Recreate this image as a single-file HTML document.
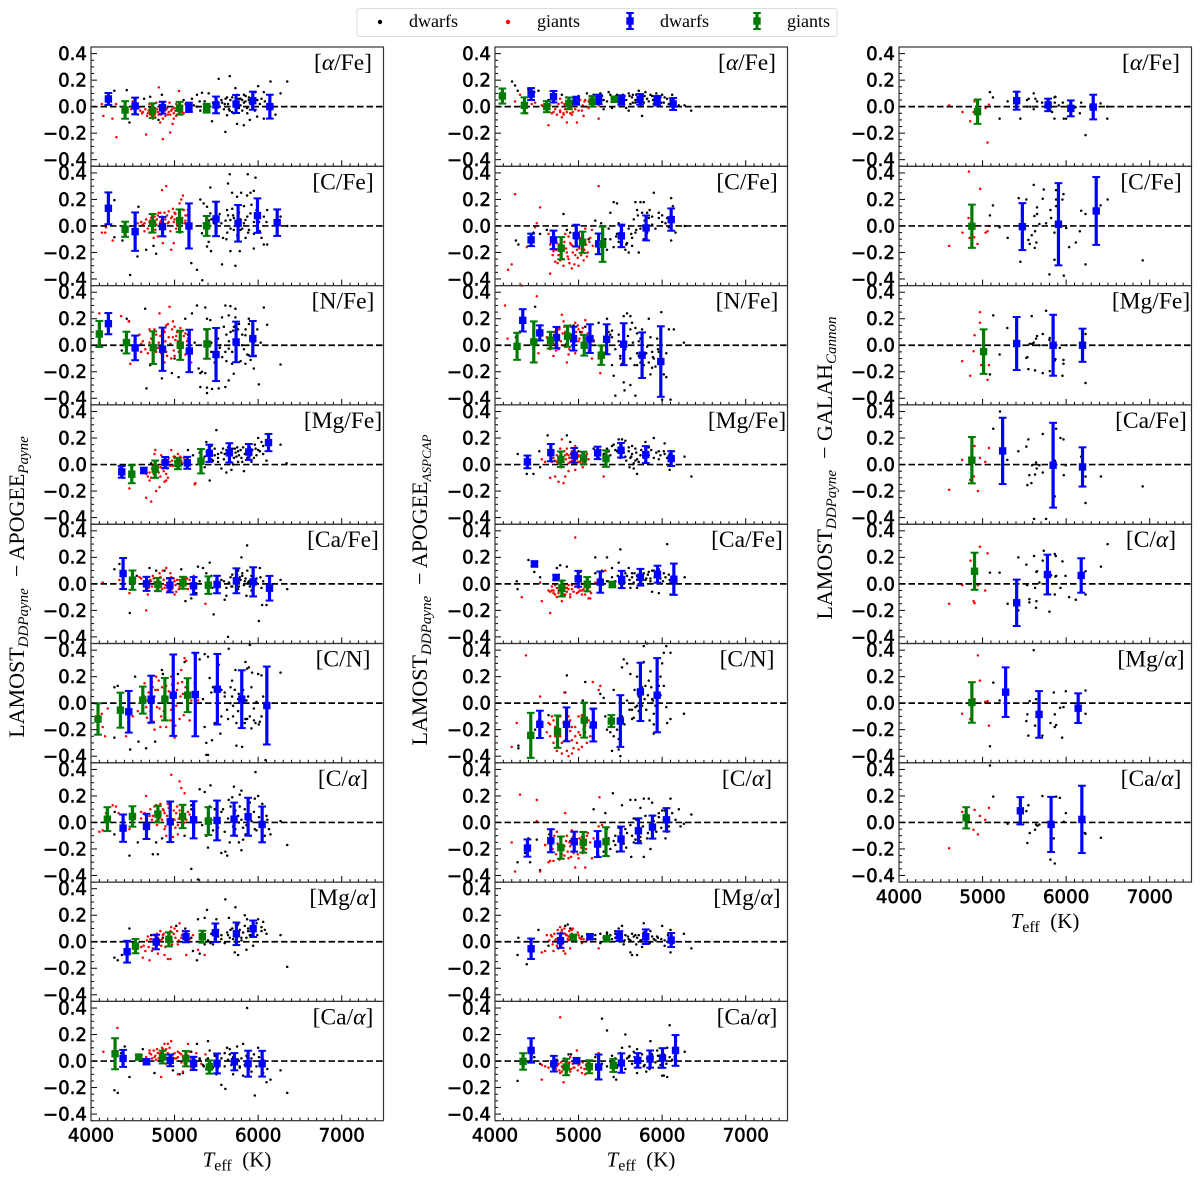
<!DOCTYPE html>
<html lang="en">
<head>
<meta charset="utf-8">
<title>LAMOST abundance comparison</title>
<style>
html,body{margin:0;padding:0;background:#fff;}
svg{display:block;}
text{fill:#000;}
.tick{font-family:"DejaVu Sans",sans-serif;font-size:18.2px;stroke:#000;stroke-width:.55px;}
.serif{font-family:"Liberation Serif",serif;}
</style>
</head>
<body>
<svg id="figure" xmlns="http://www.w3.org/2000/svg" width="1200" height="1178" viewBox="0 0 1200 1178"></svg>
<script>
// Panel titles, in reading order: left column (9), middle column (9), right column (7)
const panelTitles = [
"[α/Fe]","[C/Fe]","[N/Fe]","[Mg/Fe]","[Ca/Fe]","[C/N]","[C/α]","[Mg/α]","[Ca/α]",
"[α/Fe]","[C/Fe]","[N/Fe]","[Mg/Fe]","[Ca/Fe]","[C/N]","[C/α]","[Mg/α]","[Ca/α]",
"[α/Fe]","[C/Fe]","[Mg/Fe]","[Ca/Fe]","[C/α]","[Mg/α]","[Ca/α]"];
const columnPanelCounts = [9,9,7];
const xTickValues = [4000,5000,6000,7000];
const xTickLabels = ["4000","5000","6000","7000"];
const yTickValues = [0.4,0.2,0,-0.2,-0.4];
const yTickLabels = ["0.4","0.2","0.0","−0.2","−0.4"];

// Binned means: triples of Teff, mean difference, error
const dwarfBins = [
[4208,.058,.045,4528,.005,.063,4856,-.008,.045,5172,-.005,.035,5496,.013,.063,5736,.02,.068,5936,.045,.068,6140,0,.09],
[4208,.133,.12,4528,-.043,.145,4856,-.005,.073,5172,0,.17,5496,.053,.13,5760,.02,.138,5992,.078,.13,6228,.025,.1],
[4208,.163,.08,4528,-.02,.093,4856,-.03,.163,5176,-.043,.16,5496,-.07,.2,5736,.025,.153,5936,.05,.133],
[4368,-.055,.044,4632,-.045,.02,4888,.015,.042,5152,.013,.045,5416,.085,.065,5656,.088,.073,5888,.095,.06,6124,.166,.065],
[4384,.078,.117,4664,0,.053,4944,-.01,.054,5228,-.015,.066,5508,-.005,.066,5740,.023,.094,5940,.015,.11,6136,-.033,.093],
[4452,-.065,.157,4720,.03,.177,4984,.06,.307,5248,.065,.315,5512,.105,.266,5804,.03,.218,6104,-.018,.294],
[4384,-.043,.103,4664,-.03,.095,4948,.005,.153,5228,.02,.14,5508,.015,.15,5712,.025,.125,5880,.043,.143,6048,-.015,.135],
[4432,-.075,.082,4780,-.002,.055,5136,.038,.042,5488,.068,.07,5740,.06,.085,5940,.098,.062],
[4384,.02,.064,4664,-.005,.02,4948,.005,.044,5228,-.018,.05,5508,-.018,.075,5716,-.005,.065,5880,-.02,.098,6048,-.02,.097],
[4432,.095,.045,4700,.075,.043,4972,.045,.03,5240,.055,.035,5512,.05,.035,5736,.055,.04,5940,.045,.035,6132,.02,.045],
[4432,-.105,.047,4700,-.105,.07,4972,-.073,.082,5240,-.135,.078,5512,-.075,.085,5808,-.015,.094,6108,.048,.084],
[4332,.188,.084,4536,.093,.057,4736,.058,.08,4940,.05,.09,5136,.05,.108,5336,.045,.113,5540,.008,.158,5760,-.075,.172,5984,-.123,.266],
[4388,.02,.048,4668,.09,.065,4948,.07,.055,5228,.088,.047,5508,.108,.055,5804,.075,.064,6108,.045,.056],
[4472,.15,.02,4732,.048,.02,4996,.038,.06,5260,.013,.08,5516,.033,.065,5740,.05,.063,5944,.073,.064,6140,.035,.118],
[4536,-.16,.103,4856,-.16,.128,5176,-.165,.124,5500,-.135,.195,5740,.085,.22,5940,.06,.28],
[4388,-.193,.065,4668,-.138,.087,4948,-.145,.075,5228,-.163,.098,5508,-.125,.094,5716,-.063,.094,5884,-.035,.087,6052,.02,.088],
[4432,-.053,.077,4784,.008,.054,5136,.038,.02,5488,.043,.037,5804,.038,.055,6108,.013,.053],
[4432,.08,.092,4704,-.02,.059,4976,.003,.018,5240,-.045,.094,5512,-.015,.073,5708,.005,.055,5856,.015,.065,6004,.023,.074,6160,.08,.116],
[5408,.045,.068,5784,.013,.047,6056,-.013,.06,6324,-.003,.093],
[5476,-.005,.177,5908,.013,.31,6360,.113,.256],
[5408,.013,.2,5844,0,.23,6196,0,.125],
[5240,.103,.25,5844,-.005,.32,6196,-.018,.148],
[5408,-.143,.175,5776,.07,.15,6180,.063,.13],
[5276,.083,.187,5676,-.085,.176,6144,-.038,.112],
[5452,.088,.103,5820,-.015,.208,6188,.023,.254]];

const giantBins = [
[4408,-.025,.066,4736,-.03,.055,5060,-.012,.048,5384,-.012,.033],
[4408,-.025,.057,4736,.02,.07,5060,.04,.085,5384,0,.075],
[4100,.085,.098,4424,.02,.082,4744,-.018,.123,5068,0,.11,5388,.01,.112],
[4488,-.073,.068,4768,-.035,.065,5040,.008,.043,5316,.025,.092],
[4496,.028,.073,4800,-.005,.05,5100,.008,.045,5404,-.01,.066],
[4084,-.12,.118,4352,-.053,.132,4620,.023,.102,4884,.03,.16,5156,.06,.128],
[4196,.025,.09,4496,.045,.077,4800,.063,.063,5096,.045,.088,5404,.01,.105],
[4532,-.033,.054,4932,.018,.053,5332,.038,.045],
[4288,.055,.117,4572,.03,.018,4856,.03,.048,5136,.018,.058,5416,-.045,.05],
[4088,.08,.057,4352,.01,.06,4620,0,.042,4884,.025,.044,5164,.04,.04,5428,.055,.02],
[4792,-.168,.084,5048,-.123,.08,5288,-.138,.133],
[4264,-.008,.102,4464,.025,.155,4664,.038,.063,4868,.068,.08,5068,0,.078,5272,-.075,.073],
[4788,.04,.059,5060,.05,.047,5328,.045,.062],
[4800,-.035,.06,5104,-.003,.054,5404,-.005,.02],
[4428,-.243,.17,4748,-.215,.122,5068,-.128,.132,5392,-.135,.045],
[4788,-.19,.084,5056,-.15,.078,5328,-.145,.109],
[4936,.033,.02,5336,.023,.02],
[4336,-.003,.062,4852,-.045,.062,5128,-.043,.049,5416,-.033,.049],
[4940,-.038,.092],
[4872,-.002,.163],
[5012,-.048,.168],
[4872,.033,.175],
[4904,.095,.14],
[4872,.005,.153],
[4804,.035,.08]];

// Individual stars: pairs of Teff, difference
const dwarfDots = [
[4280,.12,4428,.125,4460,-.12,4636,.06,4708,.075,4848,.09,4868,.03,4808,-.1,5108,.05,5208,.06,5268,.09,5328,.105,5408,.1,5268,0,5308,-.03,5448,-.11,5528,.21,5660,.23,5508,.04,5568,.03,5628,.07,5668,.05,5708,.02,5728,.14,5768,.06,5808,.05,5848,.04,5888,.05,5968,.11,6000,.155,6068,.11,6148,.19,6268,.1,6348,.19,5608,-.19,5748,-.13,5828,-.14,5900,-.1,5988,-.075,5628,-.065,5688,-.04,5868,-.01,5928,0,6068,-.09,6208,-.06,5400,.01,5360,.04,5460,.03,5740,-.02,5790,.01,5650,-.02,5600,.02,5830,.09,6040,.06,5900,.03],
[4280,.195,4468,-.37,4556,-.23,4568,.145,4280,-.085,4376,-.11,4660,-.18,4780,-.21,4748,-.15,5200,-.28,5268,-.33,5332,-.41,5428,.29,5308,.2,5348,.17,5388,.145,5428,.095,5468,.06,5328,-.055,5388,-.155,5436,-.19,5408,-.12,5568,-.29,5728,-.3,5660,.39,5640,.32,5688,.25,5748,.22,5796,.25,5908,.25,5876,.39,5968,.365,5948,.265,5868,.23,5628,.12,5668,.045,5708,-.03,5788,-.03,5848,.045,5908,.095,6068,.07,6108,.12,5948,-.17,6068,-.14,6108,-.14,6268,.07,6348,0,5780,-.19,5668,-.19,5560,.02,5630,-.05,5830,.02,5880,-.05,5760,.15,5470,.02,5410,.04,6020,-.04,5950,.03,5700,.08,5620,-.1],
[4428,.2,4456,.18,4368,-.04,4648,.275,4664,-.325,4708,-.15,4848,-.25,4968,-.21,5048,-.24,5128,.2,5208,.24,5268,.3,5368,.285,5388,.2,5428,.19,5288,-.175,5308,-.21,5328,-.2,5368,-.21,5308,-.315,5388,-.36,5448,-.33,5388,-.32,5528,-.325,5608,-.315,5548,0,5608,.3,5668,.295,5728,.275,5568,.21,5648,.225,5728,.21,5888,.2,6068,.285,6108,.155,6268,-.145,6008,-.295,5948,-.175,5848,-.14,5688,-.14,5648,-.265,5708,-.215,5808,0,5848,.075,5648,-.025,5608,-.05,5888,-.075,5440,-.05,5500,.1,5540,-.02,5620,.08,5760,.12,5950,.02,5700,.11,5240,.02,5160,.08,5000,-.1],
[4340,-.03,4380,-.1,4720,.01,4900,.03,5000,.06,5160,.11,5220,.07,5300,.09,5360,.06,5380,.17,5400,.11,5500,.26,5440,.14,5480,.12,5520,.05,5580,.12,5600,.08,5560,-.03,5620,-.06,5680,-.04,5720,.12,5760,.1,5800,.05,5860,.1,5900,.13,5960,.15,6000,.2,5920,.02,5980,.07,6060,.14,6100,.03,6268,.15,6340,.01,5420,-.12,5360,-.02,5700,0,5760,.02,5830,-.05,5460,.03,5520,.08,5640,.13,5880,.1,5820,.13,6020,.1,5740,.06],
[4280,.11,4340,.15,4464,-.22,4548,.06,4700,.12,4780,.1,4880,.1,5080,.11,5130,-.13,5200,-.11,5260,-.07,5280,.13,5340,.12,5420,.16,5380,.08,5440,.06,5468,-.23,5600,-.12,5620,-.09,5640,-.4,5690,.07,5760,.1,5800,.2,5868,.29,5780,.05,5840,.02,5900,-.02,5940,.05,5980,.04,6020,.12,6008,-.28,6048,-.16,6028,.05,6100,-.16,6268,.03,6348,-.04,5500,-.01,5560,.03,5680,-.02,5720,.03,5860,-.09,5760,-.04,5810,.06,5880,.01,5920,-.05,5400,-.02],
[4280,.12,4320,.13,4280,-.26,4468,-.35,4568,-.29,4528,.2,4660,-.34,4768,-.29,4848,.25,4860,.22,4980,.28,5040,.22,5120,.31,5240,.37,5300,.33,5360,.37,5400,.35,5360,-.18,5380,-.3,5380,-.39,5400,-.39,5448,-.28,5548,-.23,5528,.29,5648,.41,5688,.17,5728,.25,5848,.31,5868,.26,5888,.27,5928,.23,6000,.22,6040,.21,5688,.05,5668,0,5628,-.05,5768,.07,5760,-.06,5700,-.1,5808,-.33,5740,-.32,5848,-.12,5868,-.12,5968,-.15,6008,-.16,6268,.23,6088,-.43,5900,.44,5920,-.19,5460,.12,5420,.19,5560,.1,5600,.08,5950,-.04,5800,.02,6040,-.1],
[4284,.08,4280,-.09,4460,-.25,4560,-.15,4650,.06,4780,-.15,4800,-.24,4740,-.24,4850,-.12,5120,-.1,5200,.1,5300,.25,5360,.23,5420,.12,5430,.28,5330,-.02,5200,.13,5400,-.19,5380,-.1,5200,-.35,5280,-.43,5560,-.23,5608,-.22,5630,-.25,5660,-.15,5710,.27,5648,.17,5690,.19,5780,.21,5800,.24,5728,.09,5770,0,5728,-.05,5820,-.13,5770,-.15,5800,-.21,5850,-.09,5900,-.1,5960,-.05,6000,.2,5960,.18,5968,.38,6080,-.1,6148,-.09,6110,.02,6050,.14,6268,.01,6348,-.17,5500,.03,5580,.1,5460,-.06],
[4280,-.12,4320,-.14,4370,-.1,4460,.1,4720,.05,4780,.01,4860,.03,5020,.12,5128,.1,5200,.03,5220,-.07,5268,-.14,5300,-.09,5360,.18,5388,.24,5280,.17,5430,-.01,5460,-.02,5500,.17,5520,.04,5560,.02,5608,.32,5650,.18,5668,.09,5728,.26,5760,.13,5800,.03,5840,.2,5868,.17,5880,.1,5760,-.1,5720,-.08,5860,-.06,5920,.05,5980,.14,6000,.17,6060,.15,6100,.06,6040,.08,6268,.05,6348,-.19,5640,.05,5700,.02,5940,-.03],
[4280,-.22,4320,-.24,4404,.11,4460,-.12,4360,.06,4620,.09,4760,-.09,4980,-.07,5060,-.1,5100,-.09,5200,.07,5268,.13,5400,.15,5420,.08,5380,.01,5460,-.05,5500,-.1,5560,-.18,5608,-.21,5628,.1,5660,.09,5720,.05,5748,.11,5780,-.05,5820,.13,5868,.4,5868,.03,5900,-.04,5960,-.26,5920,-.08,6000,.1,6040,.07,6060,.01,6060,-.09,6100,-.16,6148,-.14,6268,-.07,6348,-.24,5820,-.11,5700,-.1,5600,.06,5300,.02,5340,-.03,5380,-.06],
[4204,.19,4240,.16,4272,.12,4400,.13,4470,.11,4520,.12,4640,.05,4800,.09,4860,.07,5000,.08,5100,.1,5180,.09,5260,.1,5300,.05,5360,.11,5400,.07,5460,.09,5500,.03,5540,.02,5570,-.01,5600,.1,5640,.07,5680,.05,5720,.12,5760,.09,5800,.11,5840,.04,5880,.08,5930,.1,5980,.07,6020,.03,6060,.06,6120,.09,6148,.02,6200,.01,6268,.01,6348,-.03,5760,-.07,5600,-.03,5400,-.01,5680,.03,5300,-.02,5450,.04,5550,.08,5780,.03,5900,.02,6000,.09,5650,.09],
[4250,-.11,4280,-.14,4420,-.09,4460,-.05,4540,-.06,4620,-.03,4820,.09,4860,-.03,4900,-.05,5120,-.1,5200,.04,5270,.02,5360,-.02,5380,.1,5420,.18,5460,.17,5480,.02,5500,-.05,5520,-.12,5560,-.18,5600,-.2,5640,-.15,5680,.18,5700,.12,5740,.18,5780,.18,5820,.1,5840,.06,5880,.01,5800,-.03,5780,-.1,5720,-.2,5640,-.09,5900,.25,5960,.1,6000,.03,6060,.06,6108,.21,6128,.15,6108,-.11,6160,-.05,6270,0,5580,-.13,5680,-.05,5450,-.08,5320,-.1],
[4250,.06,4540,.15,4480,.29,4940,.15,5020,.1,5080,.14,5240,.17,5340,.2,5360,.1,5380,.08,5400,.06,5400,-.15,5420,-.23,5440,-.38,5480,.03,5500,-.1,5520,-.14,5540,.22,5580,.24,5620,.22,5640,.17,5680,.13,5700,.09,5550,-.34,5540,-.28,5620,-.3,5680,-.38,5700,-.15,5720,-.08,5760,-.03,5760,-.2,5780,-.15,5760,.12,5740,.05,5840,.2,5860,.06,5880,-.05,5900,-.1,5880,-.17,5940,.05,5960,-.05,5990,.25,6050,-.24,6000,-.41,6100,-.41,6080,.12,6140,.12,6260,.02,5810,-.06,5620,.12,5180,.03],
[4272,.08,4380,-.07,4460,-.07,4530,.1,4540,-.02,4630,.22,4860,.22,4900,.17,5000,.1,5080,.02,5180,.12,5260,.11,5340,.06,5360,.1,5400,.14,5440,.11,5480,.19,5520,.19,5560,.18,5600,.1,5640,.14,5680,.12,5680,.03,5660,-.03,5700,-.07,5700,.04,5740,.07,5780,.09,5800,.17,5840,.13,5900,.2,5960,.1,6030,.16,6100,.1,6030,.08,5960,.04,6090,-.04,6268,.06,6350,-.09,5500,.05,5560,.06,5620,.05,5640,.08,5240,.05],
[4260,.02,4270,-.04,4400,.18,4470,.09,4540,.05,4740,.12,4780,.14,4860,.13,5020,.09,5200,.08,5280,.1,5340,.2,5400,.12,5480,.16,5500,.03,5540,.05,5560,.08,5640,.08,5700,.06,5620,-.03,5660,.01,5720,-.01,5800,.03,5840,.09,5900,.1,5960,.11,6020,.08,6090,.03,6100,-.08,5960,-.07,5880,-.06,5700,-.03,6060,.3,5500,.26,6270,.05,5600,.12,5760,.05,5440,.02,5340,.02,5860,.04,5200,.2],
[4280,-.32,4280,-.34,4480,-.2,4540,-.1,4640,-.09,4860,.21,4840,.08,5050,.02,5060,-.2,5080,.16,5260,.07,5300,.04,5320,-.1,5340,-.2,5380,-.22,5420,-.12,5400,-.18,5420,.1,5400,-.36,5480,-.35,5500,-.4,5500,.05,5540,.33,5520,.27,5580,.3,5620,.22,5700,.2,5740,.25,5780,.31,5660,-.11,5680,-.03,5720,-.06,5760,-.02,5800,.13,5840,.17,5860,.24,5880,.03,5900,-.08,5900,-.16,5960,.13,5980,.2,6000,.3,6020,.38,6100,.38,6060,-.15,6100,-.12,6260,-.08,5900,-.23,6050,.43,5780,.43,5820,.45,5640,-.05],
[4270,-.3,4400,-.12,4360,-.23,4420,-.3,4500,-.13,4600,-.17,4540,-.36,4650,-.09,4900,-.14,5060,-.11,5080,-.15,5180,.1,5300,-.15,5340,-.05,5360,-.12,5410,.22,5320,.07,5440,-.1,5440,-.17,5480,-.04,5520,.13,5560,-.05,5570,-.19,5630,-.26,5620,.17,5680,.17,5740,.11,5780,.18,5840,.18,5880,.15,5960,.04,6000,.09,5660,.03,5700,-.05,5680,-.13,5740,-.11,5820,-.12,5860,-.2,5900,.01,6020,.02,6060,-.07,6120,.07,6160,.02,6200,.1,6260,-.01,6100,.18,6220,-.03,6350,.06,5780,-.26,5880,-.05,6040,-.12],
[4270,-.1,4280,.03,4380,-.17,4520,.09,4640,-.03,4760,-.05,4840,.12,4870,.13,4900,.1,5040,.04,5200,.05,5260,.06,5340,.07,5380,.05,5440,.08,5480,.1,5520,.12,5540,-.02,5600,.02,5620,-.08,5640,-.1,5700,-.1,5700,.03,5740,.01,5780,.14,5860,.08,5900,.02,5940,.04,6000,.12,6030,-.03,6100,.09,6100,-.08,6260,.06,6350,-.05,5810,.06,5760,-.04,5680,.05,5640,.06,5440,.03,5560,.05],
[4270,-.15,4440,.05,4470,.03,4540,-.02,4740,.01,4880,.05,4910,.05,5200,.03,5280,.32,5340,.23,5400,.04,5450,-.14,5500,.06,5520,.1,5560,.2,5600,.03,5660,.07,5700,.09,5740,.02,5780,-.04,5810,-.08,5860,.15,5940,.08,5960,-.05,6000,-.11,6020,-.11,6060,.1,6060,-.12,6090,.27,6150,.03,6270,.07,5420,-.12,5500,-.02,5560,-.06,5700,-.09,5610,.11,5460,-.05],
[5088,.11,5124,.07,5300,.04,5204,-.09,5452,-.09,5532,.05,5552,.06,5612,.1,5632,.06,5652,.04,5712,.03,5644,0,5612,-.02,5532,0,5572,0,5872,.075,5860,.07,5864,.03,5804,-.025,5832,-.04,5860,-.09,5960,.03,5912,.01,5972,-.09,6000,-.09,6112,-.005,6180,.03,6164,-.05,6232,-.215,6412,.025,6492,0,6492,-.09],
[5124,.155,5088,.08,5204,-.01,5300,-.09,5432,.21,5524,.2,5452,-.27,5612,.31,5732,.275,5720,.205,5652,.14,5652,.09,5620,.075,5680,.015,5760,.02,5628,-.04,5588,-.07,5548,-.105,5564,-.135,5644,-.125,5624,-.165,5812,.12,5820,.06,5880,.2,5880,.27,5880,.15,5968,.24,5956,.2,5860,-.05,6000,-.015,5860,-.255,5800,-.365,5972,-.375,6036,-.16,6116,-.125,6164,-.04,6180,.115,6232,.09,6232,-.29,6412,.155,6496,.2,6916,-.26],
[5128,.225,5296,.13,5204,-.07,5088,-.22,5588,.22,5760,.26,5720,.085,5652,.07,5640,.05,5612,.02,5564,.01,5592,.01,5680,0,5804,.055,5800,.04,5844,-.04,5924,-.02,5872,-.105,5864,-.115,5968,-.11,5968,-.14,6004,0,5524,-.095,5536,-.09,5548,-.18,5628,-.19,5720,-.21,5804,-.195,5956,-.23,6232,.085,6232,-.285],
[5208,.4,5128,.27,5296,.035,5428,.1,5524,.135,5548,.19,5720,.23,5880,.27,5932,.2,5968,.19,5592,-.005,5640,.015,5680,-.005,5648,-.03,5720,-.06,5628,-.075,5560,-.08,5536,-.155,5584,-.14,5864,.03,5996,-.005,5972,-.08,6180,.06,6232,-.09,6416,-.09,6232,-.29,5864,-.24,6916,-.165,5616,-.41,5760,-.41],
[5088,.085,5204,.085,5428,.2,5524,.145,5616,.21,5732,.25,5720,.175,5652,.095,5644,.09,5864,.225,5876,.21,5956,.17,5820,.065,5880,.06,5872,.055,5992,.06,6232,.095,6416,.13,6496,.3,5680,.01,5628,-.03,5532,-.01,5932,-.03,6232,-.08,5864,-.08,6036,-.1,6116,-.12,5300,-.15,5560,-.14,5560,-.115,5644,-.13,5800,-.21,5640,-.18,5428,-.2],
[5612,.4,5128,.155,5204,.02,5564,.015,5640,.03,5852,.08,5996,.09,6232,.095,6232,-.08,5928,-.035,5968,-.03,5864,-.085,5536,-.085,5524,-.135,5628,-.17,5812,-.15,5880,-.165,5864,-.18,5548,-.245,5716,-.245,5952,-.26,5088,-.325],
[5088,.43,5128,.195,5300,-.01,5548,.13,5524,.085,5716,.2,5880,.195,5924,.185,5996,.07,5972,.005,5680,-.015,5656,-.025,5640,-.015,5628,-.055,5564,-.08,5536,-.155,5852,-.12,5812,-.28,5864,-.31,6232,-.085,6224,-.08,6416,-.115]];

const giantDots = [
[4148,-.07,4256,-.09,4304,-.23,4130,.02,4300,.02,4500,.04,4568,-.01,4660,-.21,4812,.145,4948,-.195,4860,-.245,5052,.118,4976,-.13,4828,-.12,4620,-.04,4680,-.05,4720,-.01,4760,-.06,4800,-.04,4820,.01,4840,-.06,4880,-.03,4900,-.02,4920,-.06,4960,-.03,5000,-.01,5020,-.07,5050,-.05,5090,-.04,5130,.02,5170,-.02,4480,-.02,4560,-.06,4700,.02,4780,.03,4860,.03,4940,.03,5020,.02,4740,-.09,4860,-.09,4990,-.09,5060,-.02],
[4130,-.05,4170,-.05,4180,-.01,4260,-.11,4520,0,4560,.02,4600,.03,4640,.02,4700,.03,4760,.07,4800,.08,4830,.1,4850,.27,4900,.3,4930,.11,4960,.06,5000,.05,5040,.06,5060,.17,5080,.2,5100,.23,5130,.08,4700,-.05,4750,-.09,4800,-.08,4860,-.13,4880,-.08,4960,-.18,4990,-.13,5020,-.02,5060,-.05,4640,-.04,4920,.02,5000,.1,5120,.02,4780,.01,4840,.04,4880,.1,4980,.13,5160,.12],
[4100,.24,4360,.22,4450,.18,4520,.03,4580,.08,4600,.01,4470,-.14,4700,.12,4730,-.14,4760,.12,4780,.08,4800,-.02,4820,.24,4880,.1,4920,.16,4940,.29,4980,.18,5000,.14,5020,.07,5040,.03,5060,-.03,5000,-.08,4960,-.1,4880,-.13,4840,-.06,4760,-.02,4700,.02,4650,-.03,4600,-.05,5100,.02,5160,.05,5200,-.13,4860,.05,4980,.06,4900,-.05,5080,.1,5130,.09],
[4460,-.18,4660,-.25,4700,-.12,4720,-.28,4780,-.2,4800,-.05,4820,-.17,4760,.08,4770,.11,4840,.07,4880,.03,4900,-.12,4920,-.1,4940,.02,4960,.11,5000,.05,5020,.01,5040,.08,5060,.04,5080,.03,5120,.02,5140,.05,4640,-.04,4680,-.09,4730,-.03,4860,-.03,4900,-.07,4980,-.01,5240,-.15,5250,-.14,4780,-.04,4830,-.09,4750,-.07],
[4140,.01,4340,.03,4460,-.07,4580,.05,4600,.04,4660,-.2,4680,-.08,4740,.06,4760,.01,4780,-.05,4820,.08,4860,.1,4880,-.03,4900,.12,4960,.05,5000,.02,5020,-.06,5060,-.02,5120,.04,5160,-.04,5180,.03,5230,.06,5370,-.15,4800,.04,4840,-.02,4920,-.05,5000,-.08,4950,.08,5060,.03,4720,.02],
[4168,-.25,4130,-.08,4140,-.18,4200,-.04,4420,-.25,4500,-.1,4560,-.06,4640,.15,4660,-.03,4700,-.15,4720,.04,4740,.12,4760,-.2,4780,.2,4800,.1,4840,-.1,4860,.05,4880,-.08,4900,.13,4960,.2,5000,-.26,5020,-.02,5040,.15,5060,-.12,5080,.25,5120,.34,5140,.32,5100,.07,5160,-.02,5180,-.13,5200,.02,5240,.15,5280,.02,4680,.02,4760,.05,4820,-.04,4900,.02,4960,-.05,4900,-.18,5010,.08],
[4100,-.07,4140,-.06,4180,.07,4260,.13,4300,.12,4330,.07,4460,-.05,4600,.08,4660,.2,4700,.05,4730,.02,4780,.13,4820,.03,4860,.1,4880,-.05,4900,-.1,4920,.14,4960,.36,4980,-.11,5020,.07,5060,.09,5060,.31,5080,.26,5120,.22,5180,.06,5120,0,5040,-.02,4960,-.01,4780,.01,4660,0,4880,.07,4950,.05,5000,.02,5100,.1,5240,.04,4800,.1,5040,-.09],
[4600,-.04,4620,-.12,4680,.04,4700,-.14,4740,-.05,4760,-.02,4780,.04,4800,-.09,4830,.01,4860,.05,4880,-.1,4920,-.13,4950,-.13,4960,.11,5000,.1,5060,.14,5080,.03,5100,.08,5130,.01,5140,-.1,5160,.01,5220,.05,5360,-.1,5280,-.06,4720,.02,4840,-.03,4900,0,4960,.04,4800,.03,5040,-.02],
[4148,.07,4316,.25,4700,.08,4720,.05,4780,.01,4800,.06,4840,-.12,4860,.09,4900,.09,4920,.06,4920,.13,4960,.15,5000,.06,5040,.07,5080,.05,5120,-.02,5160,.13,5180,.07,5200,-.05,5260,.06,5040,-.1,5100,-.08,4960,.04,4840,.02,4880,.13,5000,.02,5120,.03,5320,-.02,5370,.05,4760,.03,4900,-.02],
[4300,.09,4240,.04,4380,-.05,4440,.02,4480,.03,4560,.01,4640,-.14,4700,-.04,4740,0,4780,-.03,4800,-.08,4840,-.02,4860,-.12,4900,.04,4930,-.04,4960,.05,4980,-.12,5040,-.03,5060,-.07,5120,.04,5200,.03,5240,.01,5240,-.09,4780,.06,4830,.02,4900,-.05,5000,.02,5080,.05,4820,-.06,5120,-.01],
[4240,.24,4156,-.33,4200,-.29,4380,-.16,4430,-.08,4480,-.01,4500,.02,4540,.14,4640,-.06,4660,-.36,4700,-.19,4720,-.27,4760,-.22,4800,-.17,4820,-.3,4840,-.06,4880,-.25,4900,-.13,4920,-.32,4960,-.22,4980,-.1,5000,-.3,5040,-.16,5080,-.02,5100,-.23,5140,-.09,5160,-.03,5240,.3,4860,-.2,4930,-.15,4780,-.26,4980,-.18,5030,-.09,4880,-.08,4740,-.13,5060,-.26],
[4120,.3,4150,.05,4320,.45,4500,.37,4520,-.06,4620,.06,4660,-.03,4700,-.08,4720,.01,4770,.13,4800,.23,4820,.18,4860,-.13,4880,-.07,4900,.15,4930,.14,4960,.17,5000,.12,5040,.1,5060,.06,5080,.19,5100,.02,5120,-.04,5160,-.1,5240,-.1,5260,-.21,4840,.1,4920,.05,4800,0,5000,.03,4760,-.03,4960,-.06],
[4560,.04,4600,.02,4660,-.1,4680,.02,4700,.05,4720,-.09,4760,-.13,4780,.12,4800,.19,4820,-.14,4840,.07,4880,-.05,4900,.02,4920,.1,4960,.14,5000,.02,5040,0,5060,.05,5100,.08,5300,-.09,4840,-.09,4740,.02,5000,.06,4880,.07,5050,-.02,4960,-.04,5120,.04,4780,.05],
[4320,-.1,4540,.01,4560,-.13,4640,-.05,4660,-.22,4680,-.05,4700,-.07,4720,-.01,4760,-.05,4800,-.13,4840,-.08,4880,-.04,4920,-.01,4960,.35,5000,-.06,5040,0,5080,-.08,5120,-.11,5140,-.11,5200,.01,5320,.1,4780,-.03,4900,-.1,4860,-.03,5040,-.05,5100,.04,4740,-.1],
[4370,.36,4200,-.33,4260,-.15,4520,-.13,4540,.05,4620,-.22,4660,-.16,4700,-.13,4720,-.25,4760,-.19,4800,-.3,4830,.08,4860,-.36,4900,-.21,4920,-.38,4960,-.25,5000,-.35,5040,-.09,5080,-.17,5100,-.3,5120,-.13,5140,-.25,5160,-.05,5170,.16,5240,.1,5260,.13,4780,-.1,4880,-.1,4920,-.18,5000,-.22],
[4300,.21,4500,.17,4500,.01,4200,-.15,4240,-.37,4540,-.37,4600,-.17,4640,-.3,4660,-.29,4700,-.29,4740,-.07,4780,-.12,4800,-.24,4840,.07,4860,-.1,4880,-.27,4900,-.18,4940,-.23,4960,-.15,4960,-.34,5000,-.27,5040,-.17,5080,-.34,5100,-.1,5160,-.27,5240,-.03,5240,-.25,5280,-.02,5250,.19,4830,-.18,4920,-.06,5040,-.11],
[4560,-.08,4600,-.07,4620,.05,4680,.04,4700,-.07,4720,.01,4740,-.03,4780,.11,4800,.07,4820,-.07,4840,-.09,4860,.05,4880,.01,4900,.03,4920,.09,5000,.05,5040,-.01,5060,.02,5100,.01,5240,-.05,4960,.03,4800,-.02,4900,-.05],
[4780,.33,4560,-.14,4560,-.03,4600,-.04,4640,-.05,4720,-.05,4760,-.02,4780,-.09,4800,-.04,4820,-.16,4860,-.08,4880,-.02,4900,.03,4940,-.05,4980,.08,5000,-.03,5040,-.09,5080,-.1,5120,-.07,5240,.06,5240,-.03,4720,.01,4880,-.06,4960,.02],
[4600,.01,4760,-.04,4852,-.11,4892,-.04,4904,.04,5036,-.01,5076,.015,5060,-.27],
[4600,-.15,4760,-.05,4844,-.09,4832,.06,4900,-.085,4940,-.135,5036,-.05,5060,-.04,5076,0,4836,.41,4972,.28],
[4756,-.12,4852,-.23,4904,.075,4892,-.045,4968,.25,4968,.17,4984,-.15,5076,-.15,5060,-.26],
[4600,-.19,4756,.035,4840,.05,4904,.14,4968,.05,5032,.02,5076,.125,4852,-.115,4896,-.09,4944,-.2],
[4600,-.15,4756,-.01,4856,.175,4892,-.13,4944,-.01,5032,-.05,4968,.28,5060,.23,4904,-.145],
[4944,.36,4968,.17,4756,-.08,4852,-.12,4904,.03,5032,.01,5060,.015,5076,-.17],
[4600,-.195,4756,.08,4904,.095,4968,.05,5032,.02,5076,.11,4840,.005,4892,-.055,4944,-.09]];

// Further stars from the crowded core of each panel (left and middle columns)
const crowdedGiants = [
[4590,-.03,4610,-.05,4650,-.02,4670,-.07,4690,-.03,4710,-.06,4730,-.03,4750,-.01,4770,-.08,4790,-.02,4810,-.06,4830,-.03,4850,-.01,4870,-.05,4890,-.07,4910,-.01,4930,-.04,4950,-.06,4970,-.02,4990,-.05,5010,-.03,5030,-.02,5070,-.03,5110,-.05,5150,-.01],
[4620,.01,4660,.05,4680,-.02,4720,.06,4740,.02,4770,-.03,4790,.05,4810,.1,4830,.03,4850,.07,4870,.01,4890,.05,4910,.08,4930,.03,4950,-.04,4970,.07,4990,.03,5010,.09,5030,.01,5050,.1,5070,.02,5090,.06,5110,.12,5130,.04,5150,.08],
[4540,-.02,4620,.03,4680,-.06,4720,.05,4750,.09,4780,-.05,4810,.02,4830,.07,4850,-.02,4870,.11,4890,.03,4910,-.08,4930,.06,4950,.01,4970,.12,4990,-.04,5010,.04,5030,.1,5050,-.05,5070,.13,5090,-.02,5110,.07,5130,-.07,5150,.03,4900,.15],
[4660,-.07,4700,-.06,4720,-.1,4750,-.04,4770,-.09,4790,-.01,4810,-.06,4830,-.02,4850,.02,4870,-.05,4890,.01,4910,-.03,4930,.05,4950,-.01,4970,.03,4990,.06,5010,.02,5030,.04,5050,-.02,5070,.06,5090,.01,5110,.05,5130,.02,5160,.03,4880,-.13],
[4660,.01,4690,-.03,4710,.03,4730,-.02,4750,.04,4770,.01,4790,-.02,4810,.02,4830,.05,4850,-.04,4870,.03,4890,-.01,4910,.04,4930,-.03,4950,.01,4970,-.04,4990,.04,5010,-.01,5030,.03,5050,-.04,5080,.02,5100,-.03,5130,.01,5150,.04,5190,-.02],
[4640,.05,4670,-.11,4690,.08,4710,-.06,4730,.16,4750,-.14,4770,.1,4790,-.03,4810,.17,4830,-.18,4850,.12,4870,-.06,4890,.18,4910,.04,4930,.09,4950,-.13,4970,.14,4990,.02,5010,-.17,5030,.1,5070,.05,5090,.16,5110,-.09,5130,.12,5170,.06],
[4600,.03,4640,.07,4680,-.03,4710,.1,4740,.05,4760,.12,4790,-.02,4810,.08,4830,.14,4850,.02,4870,.09,4890,-.03,4910,.05,4930,.11,4970,.02,4990,.09,5010,-.04,5030,.12,5050,.03,5070,.06,5090,-.02,5110,.13,5140,.02,5160,.08,5200,.04],
[4630,-.03,4650,-.07,4670,.01,4690,-.04,4710,.02,4730,-.07,4750,.05,4770,.01,4790,.06,4810,-.02,4830,.08,4850,.02,4870,.06,4890,-.04,4910,.07,4930,.02,4950,.08,4970,-.02,4990,.06,5010,.03,5030,.08,5050,.01,5090,.05,5120,.05,5180,.02],
[4660,.03,4680,.01,4700,.06,4730,.02,4750,.08,4770,.04,4790,.09,4810,.02,4830,.06,4850,.1,4870,.03,4890,.08,4910,.02,4940,.1,4960,.02,4980,.05,5020,.02,5040,.03,5060,.06,5080,-.01,5100,.03,5140,-.02,5160,.04,5200,.02,5240,.01],
[4640,-.02,4660,.01,4680,-.05,4700,.03,4720,-.02,4740,-.06,4760,.02,4780,-.04,4800,.03,4820,-.05,4840,.01,4860,-.04,4880,.04,4900,-.01,4920,-.06,4940,.03,4960,-.02,4980,.02,5000,-.03,5020,.05,5050,.01,5070,.04,5100,0,5140,.06,5180,.02],
[4660,-.14,4690,-.22,4710,-.12,4730,-.18,4750,-.28,4770,-.14,4790,-.2,4810,-.25,4830,-.12,4850,-.17,4870,-.23,4890,-.28,4910,-.14,4930,-.2,4950,-.29,4970,-.12,4990,-.24,5010,-.17,5030,-.22,5050,-.11,5070,-.18,5090,-.14,5110,-.2,5130,-.12,5170,-.15],
[4640,.02,4680,.05,4710,.1,4730,-.04,4750,.07,4770,.12,4790,.03,4810,.09,4830,.14,4850,.01,4870,.11,4890,-.03,4910,.08,4930,.13,4950,.02,4970,.1,4990,.15,5010,.05,5030,.08,5050,.13,5070,-.02,5090,.05,5110,.09,5140,.02,5180,.04],
[4720,.03,4740,.07,4760,.01,4780,.09,4790,-.02,4800,.05,4820,.02,4830,.1,4850,.04,4860,.08,4880,.01,4890,.05,4910,.08,4920,.03,4940,.06,4950,.01,4970,.09,4980,.04,5000,.07,5020,.02,5040,.09,5060,.02,5080,.06,4860,.12,4930,.1],
[4660,-.06,4680,-.02,4700,-.05,4720,-.08,4740,-.03,4760,-.07,4780,-.01,4800,-.05,4820,-.08,4840,-.03,4860,-.06,4880,-.01,4900,-.08,4920,-.04,4940,-.06,4960,-.02,4980,-.07,5000,-.03,5020,-.05,5040,-.08,5060,-.04,5080,-.01,5100,-.05,5120,-.03,5150,-.07],
[4640,-.15,4660,-.25,4680,-.1,4700,-.3,4720,-.18,4740,-.36,4760,-.1,4780,-.25,4800,-.38,4820,-.15,4840,-.28,4860,-.2,4880,-.4,4900,-.13,4920,-.28,4940,-.34,4960,-.18,4980,-.3,5000,-.1,5020,-.24,5040,-.33,5080,-.22,5100,-.12,5140,-.18,5180,-.1],
[4670,-.14,4690,-.2,4710,-.1,4730,-.24,4750,-.16,4770,-.28,4790,-.12,4810,-.2,4830,-.25,4850,-.14,4870,-.22,4890,-.15,4910,-.26,4930,-.11,4950,-.2,4970,-.14,4990,-.24,5010,-.12,5030,-.19,5050,-.23,5070,-.13,5090,-.2,5110,-.08,5140,-.15,5180,-.12],
[4650,.01,4670,.05,4690,-.02,4710,.06,4730,.02,4750,.09,4770,.03,4790,.07,4810,.01,4830,.1,4850,.05,4870,.02,4890,.08,4910,.04,4930,.1,4950,.05,4970,.01,4990,.07,5010,.03,4840,.06,4880,.04,4800,.09,4760,.01,4920,.06,5030,.02],
[4670,-.02,4690,-.05,4710,.01,4730,-.06,4750,-.03,4770,-.07,4790,-.01,4810,-.05,4830,.02,4850,-.07,4870,-.03,4890,-.01,4910,-.06,4930,-.02,4950,-.05,4970,.01,4990,-.07,5010,-.02,5030,-.05,5050,-.01,5070,-.06,5090,-.03,5110,-.01,4800,-.08,4900,-.08],
[],[],[],[],[],[],[]];

const crowdedDwarfs = [
[5520,.02,5560,.05,5590,-.02,5610,.06,5640,.02,5660,-.03,5690,.07,5710,-.05,5730,.03,5750,.09,5770,-.01,5790,.06,5810,-.03,5830,.03,5850,.08,5870,-.05,5890,.07,5910,.02,5940,.09,5960,-.03,5990,.05,6020,.02,6080,.04,5300,.04,5230,.01],
[5440,.05,5500,-.04,5540,.09,5580,-.09,5610,.04,5640,.08,5670,-.02,5690,.13,5710,.06,5730,.02,5750,-.07,5770,.1,5790,.05,5810,-.02,5830,.15,5850,-.09,5870,.07,5890,-.03,5920,.16,5950,-.06,5980,.12,6010,.03,6040,-.09,6100,.03,5350,.02],
[5440,.02,5480,-.13,5520,.05,5570,-.09,5590,.14,5620,-.12,5650,.03,5670,.1,5690,-.05,5710,.14,5730,-.09,5750,.04,5770,.16,5790,-.12,5810,.08,5830,-.03,5850,.12,5870,-.07,5890,.16,5910,-.11,5930,.09,5970,-.08,5990,.12,6030,.02,5360,.12],
[5440,.04,5480,.07,5520,.02,5560,.09,5590,.04,5620,.11,5650,.07,5670,.02,5690,.12,5710,.05,5730,.09,5750,.13,5770,.07,5790,.11,5810,.02,5840,.08,5870,.05,5890,.12,5910,.07,5930,.11,5950,.05,5970,.12,6000,.11,6040,.17,6060,.08],
[5300,.02,5400,.03,5450,-.03,5500,.03,5540,-.02,5590,.02,5620,-.03,5650,.01,5670,.05,5690,-.02,5710,.04,5730,.01,5750,.07,5770,-.02,5790,.03,5810,.08,5830,-.01,5850,.04,5870,.1,5890,.02,5920,.06,5950,-.02,5980,.01,6040,-.03,6060,.02],
[5440,.08,5480,-.15,5520,.02,5560,-.1,5600,.05,5640,-.12,5670,.12,5700,-.02,5720,.1,5740,-.15,5760,.03,5780,.05,5800,-.08,5820,.1,5840,-.15,5860,.02,5880,.05,5900,-.1,5920,.12,5950,-.13,5980,.01,6020,-.14,6060,.05,6100,-.08,5340,.03],
[5440,.02,5480,.1,5520,-.04,5560,.08,5600,-.07,5640,.03,5670,.12,5700,-.03,5720,.07,5740,-.1,5760,.05,5780,.12,5800,.02,5820,-.04,5840,.1,5860,-.02,5880,.06,5900,.15,5920,.01,5950,.08,5980,-.06,6010,.04,6060,-.03,6100,.05,6130,-.05],
[5360,-.02,5400,.01,5440,.06,5480,.02,5520,.09,5560,.05,5600,-.01,5630,.07,5660,.03,5690,.1,5720,.06,5740,-.02,5760,.05,5780,.09,5800,.01,5820,.07,5840,.12,5860,.03,5880,.08,5900,.05,5930,.09,5960,.12,5990,.05,6040,.11,6080,.09],
[5300,.01,5350,-.04,5400,.02,5440,-.02,5480,.04,5520,-.05,5560,.02,5600,-.04,5640,.01,5660,.05,5680,-.03,5700,.03,5720,-.06,5760,.01,5780,-.04,5800,.02,5840,-.03,5860,.04,5890,-.06,5920,.02,5950,.05,5980,-.04,6010,.03,6040,-.03,6110,-.06],
[5220,.07,5280,.08,5340,.04,5380,.09,5420,.05,5450,.08,5490,.06,5530,.09,5570,.05,5610,.08,5650,.03,5690,.09,5710,.06,5750,.03,5790,.08,5820,.06,5860,.09,5890,.05,5910,.02,5950,.08,5990,.03,6030,.07,6080,.02,6100,.05,5620,.02],
[5300,-.14,5340,-.18,5380,-.1,5420,-.16,5460,-.06,5480,-.12,5520,-.03,5540,-.08,5570,-.14,5600,-.02,5630,-.06,5660,.05,5690,-.03,5710,.08,5740,-.02,5760,.1,5790,.04,5820,-.05,5850,.12,5880,.07,5920,-.02,5960,.06,6000,.08,6040,.02,6080,-.01],
[5360,.06,5400,.11,5440,-.03,5480,.08,5500,-.08,5540,.13,5560,-.03,5590,.07,5620,-.1,5650,.02,5670,-.15,5700,-.06,5720,.03,5740,-.13,5760,-.18,5790,-.07,5820,-.01,5840,-.13,5860,-.22,5890,-.09,5920,-.16,5950,-.03,5980,-.13,6020,-.22,6050,-.06],
[5300,.08,5340,.12,5380,.07,5420,.15,5460,.1,5500,.15,5540,.09,5570,.03,5600,.13,5630,.06,5660,.01,5690,.09,5720,.02,5750,.11,5780,.05,5810,.12,5840,.07,5870,.11,5900,.05,5930,.09,5980,.07,6020,.1,6060,.05,6090,.08,5610,-.02],
[5350,.02,5400,.05,5440,.02,5470,.06,5510,.02,5550,.01,5580,.06,5610,.03,5640,.05,5670,.08,5700,.03,5720,.07,5750,.01,5780,.08,5810,.04,5830,.07,5860,.02,5880,.1,5910,.05,5930,.09,5980,.04,6010,.02,6040,.05,6080,.07,6100,.01],
[5380,-.15,5420,-.25,5460,-.2,5480,-.27,5520,-.1,5550,-.16,5580,.02,5610,-.05,5640,-.12,5670,.1,5700,-.02,5720,.05,5740,-.09,5760,.12,5790,.03,5810,-.05,5830,.06,5850,-.13,5870,.12,5890,.02,5920,-.02,5950,.18,5980,.06,6020,.13,6050,-.03],
[5240,-.18,5300,-.22,5340,-.13,5380,-.2,5420,-.14,5460,-.22,5500,-.08,5540,-.16,5580,-.08,5620,-.02,5640,-.1,5660,-.15,5690,.02,5720,-.07,5740,-.14,5770,-.03,5800,.05,5830,-.08,5860,-.02,5900,.05,5930,-.07,5960,.07,5990,-.04,6030,.09,6080,-.03],
[5200,.02,5260,-.01,5300,.03,5340,.06,5400,.02,5440,.06,5480,.03,5510,.07,5550,.01,5590,.04,5620,.01,5660,.04,5690,-.02,5720,.05,5750,.01,5780,.07,5820,.02,5850,-.01,5880,.04,5920,.01,5950,.03,5990,.02,6030,.01,6070,.05,6130,-.01],
[5280,-.02,5340,-.04,5400,-.02,5440,.02,5470,-.03,5510,.03,5540,-.01,5580,.02,5610,.04,5640,-.02,5670,.03,5700,-.04,5720,.02,5760,.05,5790,-.03,5820,.02,5850,-.06,5880,.05,5920,-.01,5950,.04,5980,-.03,6020,.05,6050,-.02,6090,.03,6120,.01],
[],[],[],[],[],[],[]];

const AXIS_LEFTS = [91,495,899];
const AXIS_TOP = 47;
const AXIS_W = 292.5;
const AXIS_H = 119.3;
const NS = "http://www.w3.org/2000/svg";
const fig = document.getElementById("figure");

function make(tag, attrs, parent){
  const el = document.createElementNS(NS, tag);
  for (const k in attrs) el.setAttribute(k, attrs[k]);
  parent.appendChild(el);
  return el;
}
function xAxis(left){ return t => left + (t - 4000) / 3500 * AXIS_W; }
function yAxis(top){ return v => top + AXIS_H / 2 - v / 0.9 * AXIS_H; }

function drawDots(g, values, x, y, color, name){
  for (let i = 0; i < values.length; i += 2){
    const c = make("circle", {cx:x(values[i]), cy:y(values[i+1]), r:1.25, fill:color}, g);
    
    
  }
}
function drawBins(g, values, x, y, color, name){
  for (let i = 0; i < values.length; i += 3){
    const px = x(values[i]), m = y(values[i+1]);
    const hi = y(values[i+1] + values[i+2]), lo = y(values[i+1] - values[i+2]);
    const bar = make("g", {}, g);
    
    
    make("line", {x1:px, x2:px, y1:hi, y2:lo, stroke:color, "stroke-width":3.2}, bar);
    make("line", {x1:px-3.9, x2:px+3.9, y1:hi, y2:hi, stroke:color, "stroke-width":2}, bar);
    make("line", {x1:px-3.9, x2:px+3.9, y1:lo, y2:lo, stroke:color, "stroke-width":2}, bar);
    make("rect", {x:px-3.7, y:m-3.7, width:7.4, height:7.4, fill:color}, bar);
  }
}
function drawTitle(g, label, left, top){
  const t = make("text", {x:left+252, y:top+23, "text-anchor":"middle", "class":"serif", "font-size":23.5}, g);
  
  
  label.split(/(α)/).forEach(part => {
    if (!part) return;
    const s = make("tspan", part === "α" ? {"font-style":"italic"} : {}, t);
    s.textContent = part;
  });
}
function drawPanel(index, col, row, isLast){
  const left = AXIS_LEFTS[col], top = AXIS_TOP + row * AXIS_H;
  const x = xAxis(left), y = yAxis(top);
  const right = left + AXIS_W, bottom = top + AXIS_H;
  const g = make("g", {}, fig);
  
  

  drawDots(g, dwarfDots[index], x, y, "#000", "dwarf-star");
  drawDots(g, crowdedDwarfs[index], x, y, "#000", "dwarf-star");
  drawDots(g, giantDots[index], x, y, "#f00", "giant-star");
  drawDots(g, crowdedGiants[index], x, y, "#f00", "giant-star");
  const zero = make("line", {x1:left, x2:right, y1:y(0), y2:y(0), stroke:"#000", "stroke-width":1.7, "stroke-dasharray":"6.5 3"}, g);
  
  
  drawBins(g, dwarfBins[index], x, y, "#0000ff", "dwarf-bin");
  drawBins(g, giantBins[index], x, y, "#007a00", "giant-bin");

  for (let t = 4000; t <= 7500; t += 100){
    const len = t % 1000 === 0 ? 6 : 3;
    make("line", {x1:x(t), x2:x(t), y1:bottom, y2:bottom-len, stroke:"#000", "stroke-width":1}, g);
  }
  for (let k = -9; k <= 9; k++){
    const len = k % 4 === 0 ? 6 : 3;
    make("line", {x1:left, x2:left+len, y1:y(k*0.05), y2:y(k*0.05), stroke:"#000", "stroke-width":1}, g);
  }
  yTickValues.forEach((v, i) => {
    const t = make("text", {x:left-4, y:y(v)+6.4, "text-anchor":"end", "class":"tick"}, g);
    
    
    t.textContent = yTickLabels[i];
  });
  drawTitle(g, panelTitles[index], left, top);
  const frame = make("rect", {x:left, y:top, width:AXIS_W, height:AXIS_H, fill:"none", stroke:"#333", "stroke-width":1.2}, g);
  
  

  if (isLast){
    xTickValues.forEach((v, i) => {
      const t = make("text", {x:x(v), y:bottom+21, "text-anchor":"middle", "class":"tick"}, g);
      
      
      t.textContent = xTickLabels[i];
    });
    const xl = make("text", {x:left+146, y:bottom+46, "text-anchor":"middle", "class":"serif", "font-size":21}, g);
    
    
    const a = make("tspan", {"font-style":"italic"}, xl); a.textContent = "T";
    const b = make("tspan", {"font-size":16, dy:4}, xl); b.textContent = "eff";
    const c = make("tspan", {dy:-4}, xl); c.textContent = "\u00A0\u00A0(K)";
  }
}
function drawYTitle(px, py, survey, subscript, subSize, name){
  const t = make("text", {transform:"translate("+px+","+py+") rotate(-90)", "text-anchor":"middle", "class":"serif", "font-size":22}, fig);
  
  
  const a = make("tspan", {}, t); a.textContent = "LAMOST";
  const b = make("tspan", {"font-size":15, "font-style":"italic", dy:4}, t); b.textContent = "DDPayne";
  const c = make("tspan", {dy:-4}, t); c.textContent = "\u00A0\u00A0− " + survey;
  const d = make("tspan", {"font-size":subSize, "font-style":"italic", dy:4}, t); d.textContent = subscript;
}
function drawLegend(){
  const g = make("g", {}, fig);
  
  
  make("rect", {x:357, y:8.5, width:480, height:28, rx:2.5, fill:"#fff", stroke:"#ddd", "stroke-width":1}, g);
  make("circle", {cx:380, cy:22, r:2.2, fill:"#000"}, g);
  make("circle", {cx:508, cy:22, r:2.2, fill:"#f00"}, g);
  [[630,"#0000ff"],[757,"#007a00"]].forEach(p => {
    make("line", {x1:p[0], x2:p[0], y1:13, y2:29, stroke:p[1], "stroke-width":3.2}, g);
    make("line", {x1:p[0]-3.8, x2:p[0]+3.8, y1:13, y2:13, stroke:p[1], "stroke-width":2}, g);
    make("line", {x1:p[0]-3.8, x2:p[0]+3.8, y1:29, y2:29, stroke:p[1], "stroke-width":2}, g);
    make("rect", {x:p[0]-3.7, y:17.3, width:7.4, height:7.4, fill:p[1]}, g);
  });
  [[409,"dwarfs"],[537,"giants"],[660,"dwarfs"],[787,"giants"]].forEach(p => {
    const t = make("text", {x:p[0], y:27, "class":"serif", "font-size":18}, g);
    
    
    t.textContent = p[1];
  });
}

let panelIndex = 0;
columnPanelCounts.forEach((count, col) => {
  for (let row = 0; row < count; row++){
    drawPanel(panelIndex, col, row, row === count - 1);
    panelIndex++;
  }
});
drawYTitle(24, 587, "APOGEE", "Payne", 15, "y-axis-title-left");
drawYTitle(427, 590, "APOGEE", "ASPCAP", 13, "y-axis-title-middle");
drawYTitle(832, 468, "GALAH", "Cannon", 15, "y-axis-title-right");
drawLegend();
</script>
</body>
</html>
